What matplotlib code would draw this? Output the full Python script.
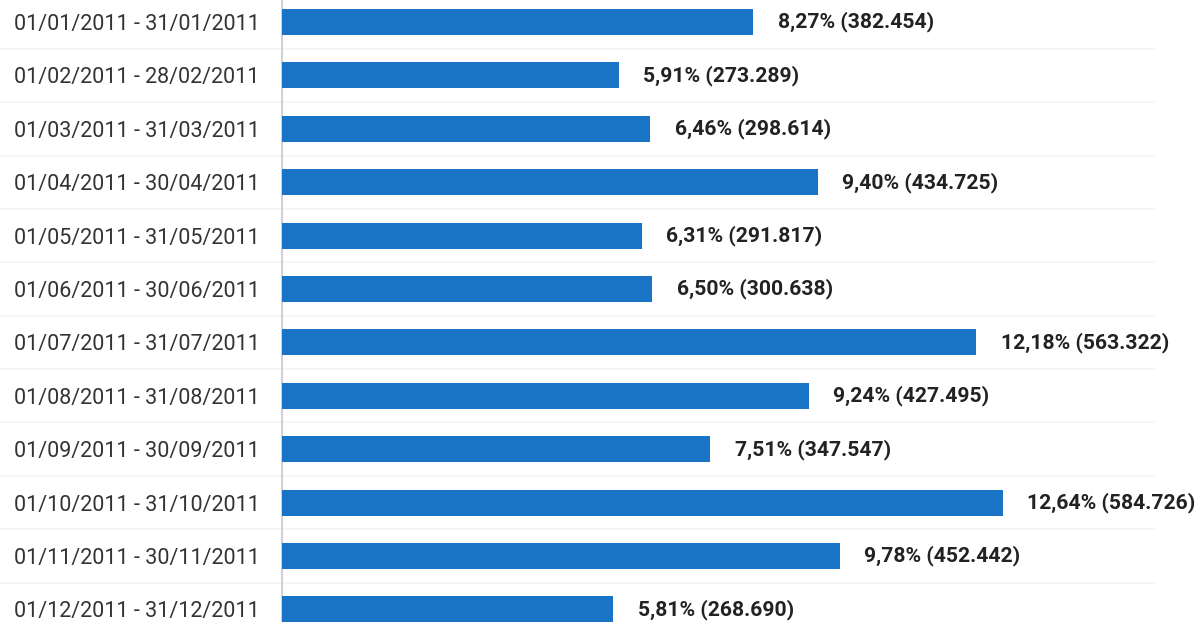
import matplotlib
matplotlib.use("Agg")
import matplotlib.pyplot as plt
import numpy as np

# ── Data ─────────────────────────────────────────────────────────────────────

periods = [
    "01/01/2011 - 31/01/2011",
    "01/02/2011 - 28/02/2011",
    "01/03/2011 - 31/03/2011",
    "01/04/2011 - 30/04/2011",
    "01/05/2011 - 31/05/2011",
    "01/06/2011 - 30/06/2011",
    "01/07/2011 - 31/07/2011",
    "01/08/2011 - 31/08/2011",
    "01/09/2011 - 30/09/2011",
    "01/10/2011 - 31/10/2011",
    "01/11/2011 - 30/11/2011",
    "01/12/2011 - 31/12/2011",
]
visits = [382454, 273289, 298614, 434725, 291817, 300638,
          563322, 427495, 347547, 584726, 452442, 268690]
shares = ["8,27%", "5,91%", "6,46%", "9,40%", "6,31%", "6,50%",
          "12,18%", "9,24%", "7,51%", "12,64%", "9,78%", "5,81%"]

BAR = "#1a74c6"

# ── Plot ─────────────────────────────────────────────────────────────────────

fig = plt.figure(figsize=(12, 6.22), dpi=100, facecolor="white")
ax = fig.add_axes([0.235, 0, 0.765, 1])

y = np.arange(len(periods))
ax.barh(y, visits, height=0.49, color=BAR, zorder=3)

ax.set_xlim(0, 745000)
ax.set_ylim(11.236, -0.412)

# faint row separators across the whole figure
for yy in y[:-1] + 0.5:
    ax.axhline(yy, xmin=-0.31, xmax=0.95, color="#f3f3f3", lw=1.2,
               clip_on=False, zorder=1)

# value labels: "share (visits)" with dot as thousands separator
for yi, v, s in zip(y, visits, shares):
    num = f"{v:,}".replace(",", ".")
    ax.text(v + 20000, yi, f"{s} ({num})", va="center", ha="left",
            fontsize=15.2, fontweight="bold", color="#222222",
            family="Roboto")

ax.set_yticks(y)
ax.set_yticklabels(periods, fontsize=15.5, color="#333333", family="Roboto")
ax.tick_params(axis="y", length=0, pad=16)
ax.set_xticks([])

for side in ["top", "right", "bottom"]:
    ax.spines[side].set_visible(False)
ax.spines["left"].set_color("#c8c8c8")
ax.spines["left"].set_linewidth(1.2)

fig.savefig("out.png", dpi=100, facecolor="white")
